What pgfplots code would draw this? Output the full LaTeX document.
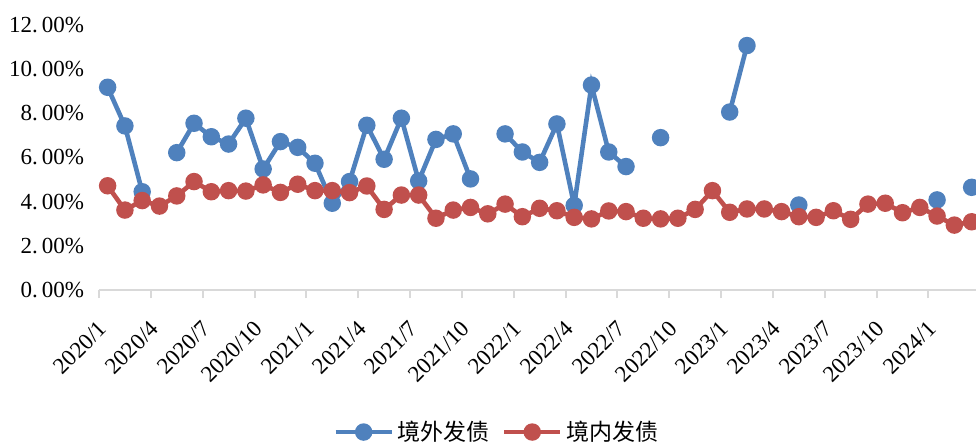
\documentclass[border=0pt]{standalone}
\usepackage{fontspec}
\setmainfont{Liberation Serif}
\newfontfamily\cjk{Noto Sans CJK SC}
\usepackage{pgfplots}
\pgfplotsset{compat=1.18}
\usepackage{pgfplotstable}
\definecolor{cblue}{HTML}{4F81BD}
\definecolor{cred}{HTML}{C0504D}
\definecolor{axgray}{HTML}{D9D9D9}

\pgfplotstableread{
x a b
0 9.18 4.72
1 7.43 3.62
2 4.45 4.05
3 nan 3.80
4 6.22 4.26
5 7.55 4.91
6 6.94 4.45
7 6.61 4.50
8 7.78 4.48
9 5.48 4.76
10 6.72 4.42
11 6.46 4.79
12 5.74 4.50
13 3.93 4.50
14 4.91 4.41
15 7.46 4.71
16 5.92 3.65
17 7.78 4.30
18 4.94 4.30
19 6.82 3.25
20 7.07 3.62
21 5.03 3.74
22 nan 3.45
23 7.07 3.89
24 6.25 3.32
25 5.78 3.70
26 7.52 3.59
27 3.83 3.29
28 9.28 3.22
29 6.25 3.58
30 5.59 3.55
31 nan 3.25
32 6.90 3.22
33 nan 3.25
34 nan 3.65
35 nan 4.50
36 8.06 3.52
37 11.07 3.67
38 nan 3.67
39 nan 3.55
40 3.85 3.32
41 nan 3.29
42 nan 3.59
43 nan 3.20
44 nan 3.89
45 nan 3.93
46 nan 3.50
47 nan 3.74
48 4.08 3.35
49 nan 2.94
50 4.65 3.09
}\datatable

\begin{document}
\begin{tikzpicture}
\useasboundingbox (-49.5pt,-78.5pt) rectangle (438.5pt,145pt);
\begin{axis}[
  at={(0pt,0pt)}, anchor=south west,
  scale only axis, width=440.64pt, height=132.5pt,
  xmin=-0.5, xmax=50.5, ymin=0, ymax=12,
  axis x line*=bottom, axis y line*=left,
  x axis line style={-, draw=axgray, line width=1pt},
  y axis line style={draw=none},
  tick style={draw=axgray, line width=1pt},
  major tick length=0pt, tick align=outside,
  ytick={0,2,...,12},
  yticklabels={0.\,00\%,2.\,00\%,4.\,00\%,6.\,00\%,8.\,00\%,10.\,00\%,12.\,00\%},
  xtick={0,3,...,48},
  xticklabels={2020/1,2020/4,2020/7,2020/10,2021/1,2021/4,2021/7,2021/10,2022/1,2022/4,2022/7,2022/10,2023/1,2023/4,2023/7,2023/10,2024/1},
  extra x ticks={-0.5,2.5,...,47.5},
  extra x tick labels={},
  extra x tick style={major tick length=4pt},
  /pgf/number format/assume math mode=true,
  yticklabel style={font=\fontsize{11.5}{13}\selectfont, xshift=-4pt},
  xticklabel style={font=\fontsize{11.5}{13}\selectfont, yshift=-15pt, rotate=45, anchor=east},
  legend style={at={(axis description cs:0.4527,-0.536)}, anchor=center, draw=none, fill=none,
    font=\cjk\fontsize{11.5}{13}\selectfont, legend columns=2,
    /tikz/every even column/.append style={column sep=4pt}},
  legend image code/.code={\draw[mark repeat=2, mark phase=2, #1] plot coordinates {(0pt,0pt) (14pt,0pt) (28pt,0pt)};},
  unbounded coords=jump,
]
\addplot[cblue, line width=2.3pt, mark=*, mark size=3.2pt, mark options={solid}] table[x=x,y=a]{\datatable};
\addlegendentry{境外发债}
\addplot[cred, line width=2.3pt, mark=*, mark size=3.2pt, mark options={solid}] table[x=x,y=b]{\datatable};
\addlegendentry{境内发债}
\end{axis}
\end{tikzpicture}
\end{document}
